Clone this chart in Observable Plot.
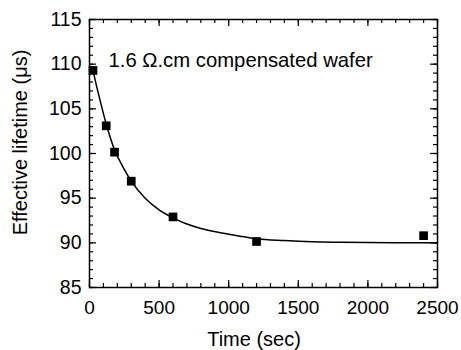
<!DOCTYPE html>
<html><head><meta charset="utf-8">
<script src="https://cdn.jsdelivr.net/npm/d3@7"></script>
<script src="https://cdn.jsdelivr.net/npm/@observablehq/plot@0.6"></script>
<style>body{margin:0;background:#fff}</style>
</head><body><div id="chart"></div>
<script>
// measured points
const timeSec = [25, 120, 180, 300, 600, 1200, 2400];
const lifetime = [109.3, 103.1, 100.15, 96.9, 92.9, 90.15, 90.8];
// fitted curve
const fitTime = [25, 50, 80, 120, 180, 240, 300, 400, 500, 600, 700, 800, 950, 1100, 1200, 1400, 1600, 1800, 2000, 2200, 2500];
const fitLifetime = [109.3, 107.6, 105.7, 103.3, 100.4, 98.5, 96.9, 95.0, 93.7, 92.8, 92.1, 91.6, 91.1, 90.7, 90.45, 90.25, 90.12, 90.07, 90.04, 90.02, 90.0];
const xMajor = [0, 500, 1000, 1500, 2000, 2500];
const yMajor = [85, 90, 95, 100, 105, 110, 115];
const xMinor = d3.range(0, 2501, 100);
const yMinor = d3.range(85, 116, 1);
const xLabel = "Time (sec)";
const yLabel = "Effective lifetime (\u03bcs)";
const note = "1.6 \u03a9.cm compensated wafer";

const W = 461, H = 350, mL = 89, mR = 24, mT = 19, mB = 63;
const pH = H - mT - mB;
const pW = W - mL - mR;
const pts = timeSec.map((t, i) => ({t, v: lifetime[i]}));
const fit = fitTime.map((t, i) => ({t, v: fitLifetime[i]}));
const font = "'Liberation Sans', Arial, Helvetica, sans-serif";
const maj = 7, mnr = 4;

const chart = Plot.plot({
  width: W, height: H,
  marginLeft: mL, marginRight: mR, marginTop: mT, marginBottom: mB,
  style: {fontFamily: font, background: "#fff", color: "#000"},
  x: {domain: [0, 2500]},
  y: {domain: [85, 115]},
  marks: [
    // inward ticks on all sides
    Plot.ruleX(xMinor, {x: d => d, insetTop: pH - mnr, stroke: "#000", strokeWidth: 1.2}),
    Plot.ruleX(xMajor, {x: d => d, insetTop: pH - maj, stroke: "#000", strokeWidth: 1.2}),
    Plot.ruleX(xMinor, {x: d => d, insetBottom: pH - mnr, stroke: "#000", strokeWidth: 1.2}),
    Plot.ruleX(xMajor, {x: d => d, insetBottom: pH - maj, stroke: "#000", strokeWidth: 1.2}),
    Plot.ruleY(yMinor, {y: d => d, insetRight: pW - mnr, stroke: "#000", strokeWidth: 1.2}),
    Plot.ruleY(yMajor, {y: d => d, insetRight: pW - maj, stroke: "#000", strokeWidth: 1.2}),
    Plot.ruleY(yMinor, {y: d => d, insetLeft: pW - mnr, stroke: "#000", strokeWidth: 1.2}),
    Plot.ruleY(yMajor, {y: d => d, insetLeft: pW - maj, stroke: "#000", strokeWidth: 1.2}),
    Plot.axisX({ticks: xMajor, tickSize: 0, tickPadding: 13, fontSize: 19, label: null, tickFormat: d => String(d)}),
    Plot.axisY({ticks: yMajor, tickSize: 0, tickPadding: 8, fontSize: 19.5, label: null, tickFormat: d => String(d)}),
    Plot.frame({stroke: "#000", strokeWidth: 1.5}),
    Plot.line(fit, {x: "t", y: "v", stroke: "#000", strokeWidth: 1.5, curve: "monotone-x"}),
    Plot.dot(pts, {x: "t", y: "v", symbol: "square", r: 4.9, fill: "#000", stroke: "none"}),
    Plot.text([note], {frameAnchor: "top-left", textAnchor: "start", lineAnchor: "middle", dx: 19, dy: 41, fontSize: 20.3, fill: "#000"}),
    Plot.text([xLabel], {frameAnchor: "bottom", textAnchor: "middle", lineAnchor: "middle", dx: -9.5, dy: 51.6, fontSize: 20, fill: "#000"}),
    Plot.text([yLabel], {frameAnchor: "left", rotate: -90, textAnchor: "middle", lineAnchor: "middle", dx: -69.4, dy: -11, fontSize: 20, fill: "#000"})
  ]
});
document.getElementById("chart").appendChild(chart);
</script>
</body></html>
